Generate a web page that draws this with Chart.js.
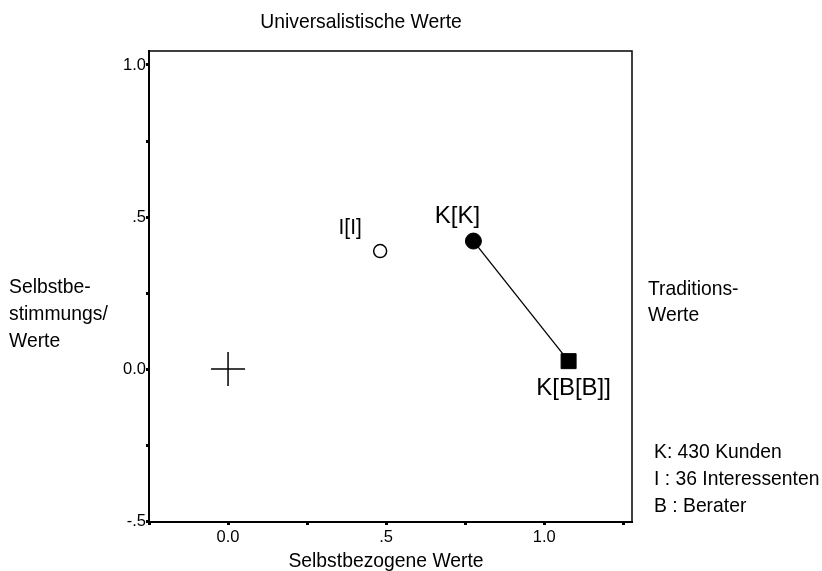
<!DOCTYPE html>
<html>
<head>
<meta charset="utf-8">
<script src="https://cdn.jsdelivr.net/npm/chart.js@4"></script>
<style>
  html, body { margin: 0; padding: 0; background: #ffffff; }
  #wrap { width: 822px; height: 571px; position: relative; }
</style>
</head>
<body>
<div id="wrap"><canvas id="c" width="822" height="571"></canvas></div>
<script>
// ---- data ----
const pointNames = ['Origin', 'I[I]', 'K[K]', 'K[B[B]]'];
const pointX = [0.0, 0.481, 0.776, 1.077];
const pointY = [0.0, 0.388, 0.421, 0.026];
const xTickValues = [0.0, 0.5, 1.0];
const xTickLabels = ['0.0', '.5', '1.0'];
const yTickValues = [1.0, 0.5, 0.0, -0.5];
const yTickLabels = ['1.0', '.5', '0.0', '-.5'];
const xRange = [-0.25, 1.2775];
const yRange = [-0.503, 1.046];
const titleTop = 'Universalistische Werte';
const titleBottom = 'Selbstbezogene Werte';
const leftLabel = ['Selbstbe-', 'stimmungs/', 'Werte'];
const rightLabel = ['Traditions-', 'Werte'];
const legendLines = ['K: 430 Kunden', 'I : 36 Interessenten', 'B : Berater'];

const FONT = '"Liberation Sans", Arial, sans-serif';

function labelFor(v, values, labels) {
  for (let i = 0; i < values.length; i++) {
    if (Math.abs(v - values[i]) < 1e-6) return labels[i];
  }
  return '';
}

function drawText(ctx, text, x, y, align, size, sx) {
  ctx.save();
  ctx.font = size + 'px ' + FONT;
  ctx.textAlign = align;
  ctx.textBaseline = 'alphabetic';
  ctx.translate(x, y);
  ctx.scale(sx, 1);
  ctx.fillText(text, 0, 0);
  ctx.restore();
}

const pt = i => [{ x: pointX[i], y: pointY[i] }];

const textPlugin = {
  id: 'texts',
  afterDraw(chart) {
    const ctx = chart.ctx;
    const a = chart.chartArea;
    ctx.save();
    // top/right frame
    ctx.strokeStyle = '#000';
    ctx.lineWidth = 1.5;
    ctx.beginPath();
    ctx.moveTo(a.left, a.top);
    ctx.lineTo(a.right, a.top);
    ctx.lineTo(a.right, a.bottom);
    ctx.stroke();

    ctx.fillStyle = '#000';
    const S = 21, SX = 0.92;
    drawText(ctx, titleTop, 361, 28, 'center', S, SX);
    drawText(ctx, titleBottom, 386, 567, 'center', S, SX);
    leftLabel.forEach((t, i) => drawText(ctx, t, 9, 293 + i * 27, 'left', S, SX));
    rightLabel.forEach((t, i) => drawText(ctx, t, 648, 295 + i * 25.5, 'left', S, SX));
    legendLines.forEach((t, i) => drawText(ctx, t, 654, 458 + i * 27, 'left', S, SX));

    // point labels
    const pl = [
      { ds: 1, text: pointNames[1], dx: -30, dy: -17, size: 22, sx: 0.95 },
      { ds: 2, text: pointNames[2], dx: -16, dy: -18, size: 24, sx: 1 },
      { ds: 3, text: pointNames[3], dx: 5, dy: 34, size: 24, sx: 1 }
    ];
    pl.forEach(p => {
      const el = chart.getDatasetMeta(p.ds).data[0];
      drawText(ctx, p.text, el.x + p.dx, el.y + p.dy, 'center', p.size, p.sx);
    });
    ctx.restore();
  }
};

new Chart(document.getElementById('c'), {
  type: 'scatter',
  data: {
    datasets: [
      { label: pointNames[0], data: pt(0), pointStyle: 'cross', pointRadius: 17,
        borderColor: '#000', borderWidth: 1.5, backgroundColor: '#000', order: 1 },
      { label: pointNames[1], data: pt(1), pointStyle: 'circle', pointRadius: 6.5,
        borderColor: '#000', borderWidth: 1.5, backgroundColor: '#fff', order: 1 },
      { label: pointNames[2], data: pt(2), pointStyle: 'circle', pointRadius: 8,
        borderColor: '#000', borderWidth: 1, backgroundColor: '#000', order: 1 },
      { label: pointNames[3], data: pt(3), pointStyle: 'rect', pointRadius: 10.6,
        borderColor: '#000', borderWidth: 1, backgroundColor: '#000', order: 1 },
      { label: 'link', data: [{ x: pointX[2], y: pointY[2] }, { x: pointX[3], y: pointY[3] }],
        showLine: true, pointRadius: 0, borderColor: '#000', borderWidth: 1.3, order: 2 }
    ]
  },
  options: {
    responsive: false,
    animation: false,
    events: [],
    layout: { padding: { left: 0, top: 51, right: 190, bottom: 19 } },
    plugins: { legend: { display: false }, tooltip: { enabled: false }, title: { display: false } },
    scales: {
      x: {
        type: 'linear', min: xRange[0], max: xRange[1],
        afterFit(s) { s.height = 30; },
        border: { display: true, color: '#000', width: 2 },
        grid: { drawOnChartArea: false, drawTicks: true, tickLength: 3, tickWidth: 3, color: '#000' },
        ticks: {
          stepSize: 0.25, includeBounds: false, autoSkip: false, maxRotation: 0,
          padding: 3, color: '#000', font: { family: FONT, size: 16.5 },
          callback: v => labelFor(v, xTickValues, xTickLabels)
        }
      },
      y: {
        type: 'linear', min: yRange[0], max: yRange[1],
        afterFit(s) { s.width = 149; },
        border: { display: true, color: '#000', width: 2 },
        grid: { drawOnChartArea: false, drawTicks: true, tickLength: 3, tickWidth: 3, color: '#000' },
        ticks: {
          stepSize: 0.25, includeBounds: false, autoSkip: false,
          padding: 0, color: '#000', font: { family: FONT, size: 16.5 },
          callback: v => labelFor(v, yTickValues, yTickLabels)
        }
      }
    }
  },
  plugins: [textPlugin]
});
</script>
</body>
</html>
